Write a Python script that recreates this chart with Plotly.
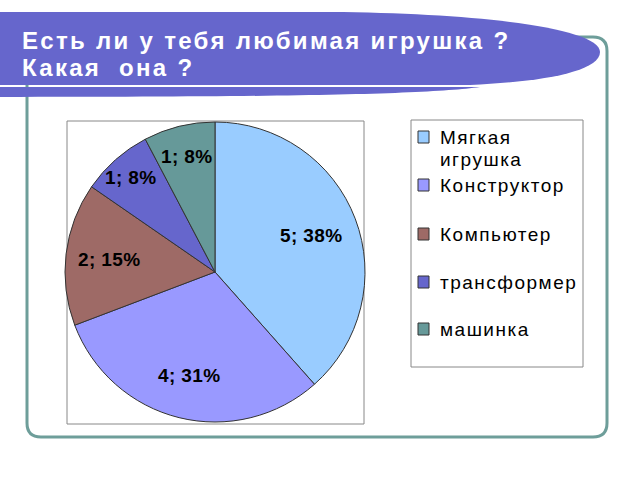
import math
import plotly.graph_objects as go

labels = ["Мягкая игрушка", "Конструктор", "Компьютер", "трансформер", "машинка"]
legend_lines = [["Мягкая", "игрушка"], ["Конструктор"], ["Компьютер"], ["трансформер"], ["машинка"]]
values = [5, 4, 2, 1, 1]
colors = ["#99CCFF", "#9999FF", "#9E6A66", "#6666CC", "#669999"]
title_lines = ["Есть ли у тебя любимая игрушка ?", "Какая\u00a0 она ?"]
label_radius = [0.69, 0.71, 0.71, 0.84, 0.79]

W, H = 640, 480
FONT = "Liberation Sans, Arial, sans-serif"

def px(x):
    return x / W

def py(y):
    return 1 - y / H

def path(cmds):
    out = []
    for c in cmds:
        if isinstance(c, str):
            out.append(c)
        else:
            out.append(f"{px(c[0]):.5f},{py(c[1]):.5f}")
    return " ".join(out)

def spaced(t, ls):
    return f"<span style='letter-spacing:{ls}px'>{t}</span>"

shapes = []
x0, y0, x1, y1, r = 27, 37, 607, 437, 14
frame = path(["M", (x0 + r, y0), "L", (x1 - r, y0), "Q", (x1, y0), (x1, y0 + r),
              "L", (x1, y1 - r), "Q", (x1, y1), (x1 - r, y1), "L", (x0 + r, y1),
              "Q", (x0, y1), (x0, y1 - r), "L", (x0, y0 + r), "Q", (x0, y0), (x0 + r, y0), "Z"])
shapes.append(dict(type="path", xref="paper", yref="paper", path=frame,
                   line=dict(color="#6E9E9A", width=3), fillcolor="white", layer="below"))
sw = path(["M", (0, 12), "L", (330, 12), "C", (480, 13), (600, 28), (600, 52),
           "C", (600, 72), (540, 82), (470, 85), "L", (0, 85), "Z"])
shapes.append(dict(type="path", xref="paper", yref="paper", path=sw,
                   line=dict(width=0), fillcolor="#6666CC", layer="below"))
sw2 = path(["M", (0, 87), "L", (480, 87), "C", (430, 94), (300, 97), (0, 97), "Z"])
shapes.append(dict(type="path", xref="paper", yref="paper", path=sw2,
                   line=dict(width=0), fillcolor="#6666CC", layer="below"))
shapes.append(dict(type="rect", xref="paper", yref="paper", x0=px(67), x1=px(364), y0=py(121), y1=py(424),
                   line=dict(color="#888888", width=1), fillcolor="white", layer="below"))
shapes.append(dict(type="rect", xref="paper", yref="paper", x0=px(411), x1=px(583), y0=py(120), y1=py(367),
                   line=dict(color="#888888", width=1), fillcolor="white", layer="below"))

annotations = []
for i, t in enumerate(title_lines):
    annotations.append(dict(x=px(20), y=py(40 + 28 * i), xref="paper", yref="paper",
                            text=f"<b>{spaced(t, 2.3)}</b>",
                            showarrow=False, xanchor="left", yanchor="middle",
                            font=dict(family=FONT, size=24, color="white")))

leg_y = [137, 185, 234, 282, 329]
for i, lines in enumerate(legend_lines):
    yc = leg_y[i]
    shapes.append(dict(type="rect", xref="paper", yref="paper", x0=px(418), x1=px(429),
                       y0=py(yc - 6), y1=py(yc + 6), line=dict(color="#333333", width=1),
                       fillcolor=colors[i]))
    for j, ln in enumerate(lines):
        annotations.append(dict(x=px(438), y=py(yc + 22 * j), xref="paper", yref="paper",
                                text=spaced(ln, 1.5),
                                showarrow=False, xanchor="left", yanchor="middle",
                                font=dict(family=FONT, size=19, color="black")))

cx, cy, rad = 215, 272, 150
total = sum(values)
cum = 0
for i, v in enumerate(values):
    mid = (cum + v / 2) / total * 2 * math.pi
    cum += v
    lr = label_radius[i] * rad
    lx = cx + lr * math.sin(mid)
    ly = cy - lr * math.cos(mid)
    annotations.append(dict(x=px(lx), y=py(ly), xref="paper", yref="paper",
                            text=f"<b>{spaced(f'{v}; {round(100 * v / total)}%', 0.4)}</b>",
                            showarrow=False, xanchor="center", yanchor="middle",
                            font=dict(family=FONT, size=19, color="black")))

fig = go.Figure(go.Pie(
    labels=labels, values=values, sort=False, direction="clockwise", rotation=0,
    marker=dict(colors=colors, line=dict(color="#333333", width=1)),
    textinfo="none",
    domain=dict(x=[px(cx - rad), px(cx + rad)], y=[py(cy + rad), py(cy - rad)]),
    showlegend=False, hoverinfo="label+value+percent",
))
fig.update_layout(width=W, height=H, margin=dict(l=0, r=0, t=0, b=0),
                  paper_bgcolor="white", plot_bgcolor="white",
                  shapes=shapes, annotations=annotations)
fig.write_html("out.html")
